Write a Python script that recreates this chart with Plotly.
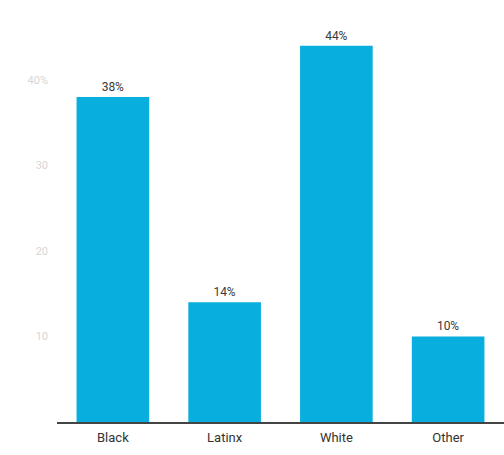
import plotly.graph_objects as go

categories = ["Black", "Latinx", "White", "Other"]
shares = [38, 14, 44, 10]
tick_values = [10, 20, 30, 40]
tick_labels = ["10", "20", "30", "40%"]

fig = go.Figure(
    go.Bar(
        x=categories,
        y=shares,
        marker=dict(color="#08AEDD", line=dict(width=0)),
        text=[f"{v}%" for v in shares],
        textposition="outside",
        textfont=dict(family="Roboto", size=12, color="#3a3a3a"),
        cliponaxis=False,
    )
)

fig.update_layout(
    width=504,
    height=455,
    margin=dict(l=57, r=0, t=20, b=33),
    paper_bgcolor="white",
    plot_bgcolor="white",
    bargap=0.35,
    showlegend=False,
    xaxis=dict(
        showline=True,
        linecolor="#444444",
        linewidth=1.5,
        ticks="",
        ticklabelstandoff=3,
        tickfont=dict(family="Roboto", size=13, color="#333333"),
        showgrid=False,
    ),
    yaxis=dict(
        range=[0, 47],
        tickvals=tick_values,
        ticktext=tick_labels,
        ticklabelstandoff=8,
        tickfont=dict(family="Roboto", size=11, color="#d6d6d6"),
        showgrid=False,
        zeroline=False,
        showline=False,
        ticks="",
    ),
)

fig.write_html("out.html")
